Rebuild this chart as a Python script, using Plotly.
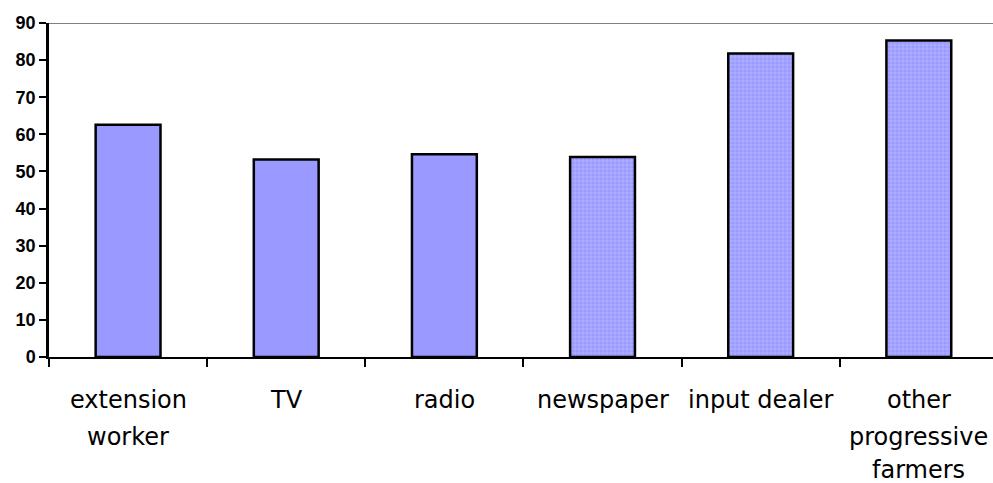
import plotly.graph_objects as go

categories = ["extension worker", "TV", "radio", "newspaper", "input dealer", "other progressive farmers"]
label_lines = [["extension", "worker"], ["TV"], ["radio"], ["newspaper"], ["input dealer"], ["other", "progressive", "farmers"]]
values = [62.6, 53.2, 54.6, 53.9, 81.8, 85.3]
patterns = ["", "", "", "+", "+", "+"]
y_ticks = [0, 10, 20, 30, 40, 50, 60, 70, 80, 90]

fig = go.Figure()
fig.add_trace(go.Bar(
    x=categories, y=values, width=0.41,
    marker=dict(color="#9999FF", line=dict(color="black", width=2.5),
                pattern=dict(shape=patterns, fgcolor="#E4E4FF", size=4, solidity=0.25)),
))

line_px = [43, 80, 113]
annotations = []
for cat, lines in zip(categories, label_lines):
    for i, ln in enumerate(lines):
        annotations.append(dict(x=cat, y=0, xref="x", yref="y", text=ln, showarrow=False,
                                yanchor="middle", xanchor="center", yshift=-line_px[i],
                                borderpad=0,
                                font=dict(family="DejaVu Sans", size=24, color="black")))

fig.add_shape(type="line", xref="paper", yref="y", x0=0, x1=1, y0=90, y1=90,
              line=dict(color="#808080", width=2))

fig.update_layout(
    width=993, height=483, margin=dict(l=49, r=0, t=23, b=125.5),
    paper_bgcolor="white", plot_bgcolor="white", showlegend=False, bargap=0.59,
    annotations=annotations,
    xaxis=dict(type="category", range=[-0.5, 5.469], showticklabels=False, showline=True,
               linecolor="black", linewidth=2, ticks="outside", tickson="boundaries",
               ticklen=8, tickwidth=2, tickcolor="black", showgrid=False, zeroline=False),
    yaxis=dict(range=[0, 90], tickvals=y_ticks, ticks="outside", ticklen=7, tickwidth=2,
               tickcolor="black", showline=True, linecolor="black", linewidth=2.5,
               showgrid=False, zeroline=False,
               tickfont=dict(family="Liberation Sans", size=18, color="black", weight="bold")),
)
fig.write_html("out.html", config={"displayModeBar": False},
               post_script="document.body.style.margin='0';document.body.style.overflow='hidden';")
